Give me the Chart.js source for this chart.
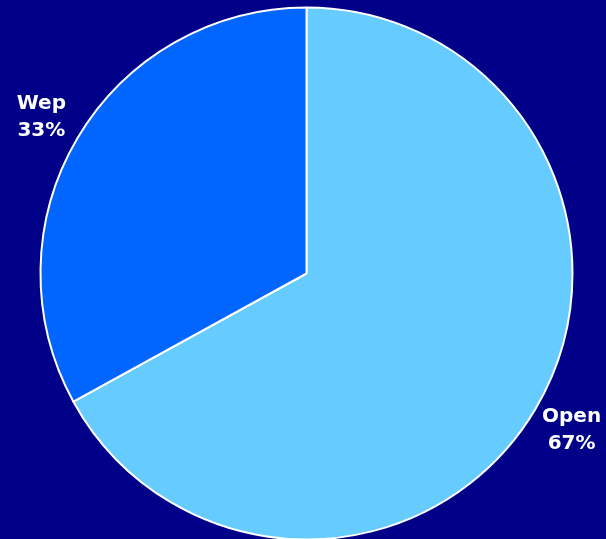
<!DOCTYPE html>
<html>
<head>
<meta charset="utf-8">
<script src="https://cdn.jsdelivr.net/npm/chart.js@4"></script>
<style>
  html, body { margin: 0; padding: 0; background: #000088; }
  #wrap { width: 606px; height: 539px; }
</style>
</head>
<body>
<div id="wrap"><canvas id="chartPie"></canvas></div>
<script>
const categories = ['Open', 'Wep'];
const values = [67, 33];
const colors = ['#66CCFF', '#0066FF'];

// draws "Name\nNN%" outside each slice
const outsideLabels = {
    id: 'outsideLabels',
    afterDraw(chart) {
        const ctx = chart.ctx;
        const meta = chart.getDatasetMeta(0);
        const total = values.reduce((a, b) => a + b, 0);
        ctx.save();
        ctx.fillStyle = '#ffffff';
        ctx.font = 'bold 20px "DejaVu Sans", Verdana, sans-serif';
        ctx.textAlign = 'center';
        ctx.textBaseline = 'middle';
        meta.data.forEach((arc, i) => {
            const p = arc.getProps(['x', 'y', 'startAngle', 'endAngle', 'outerRadius'], true);
            const mid = (p.startAngle + p.endAngle) / 2;
            const r = p.outerRadius + 42;
            const x = p.x + Math.cos(mid) * r;
            const y = p.y + Math.sin(mid) * r;
            const pct = Math.round(values[i] / total * 100) + '%';
            ctx.fillText(categories[i], x, y - 13);
            ctx.fillText(pct, x, y + 14);
        });
        ctx.restore();
    }
};

const ctx1 = document.getElementById('chartPie').getContext('2d');
const chartPie = new Chart(ctx1, {
    type: 'pie',
    data: {
        labels: categories,
        datasets: [{
            data: values,
            backgroundColor: colors,
            borderColor: '#ffffff',
            borderWidth: 2,
            hoverOffset: 0
        }]
    },
    options: {
        responsive: true,
        maintainAspectRatio: false,
        animation: false,
        radius: 266,
        layout: {
            padding: { top: 8, bottom: 0, left: 7, right: 0 }
        },
        plugins: {
            legend: { display: false },
            tooltip: { enabled: false }
        }
    },
    plugins: [outsideLabels]
});
</script>
</body>
</html>
